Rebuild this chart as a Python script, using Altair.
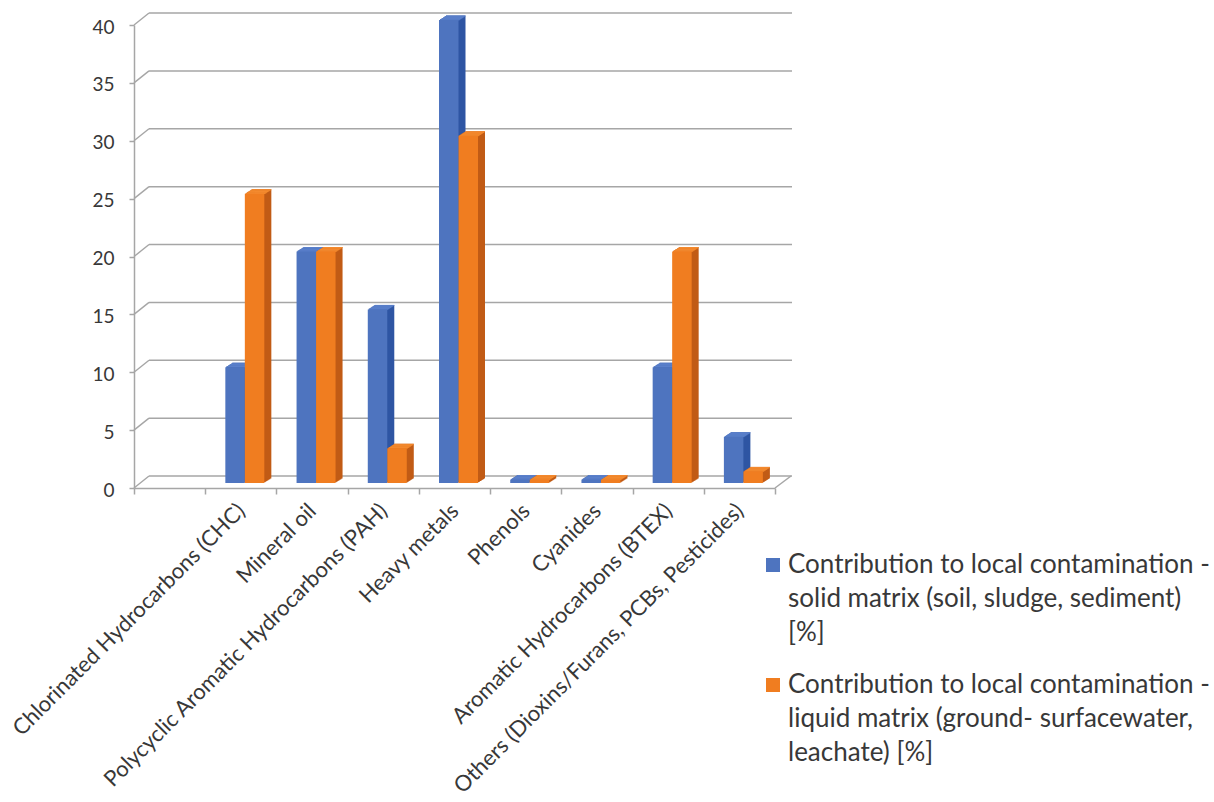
import json
import altair as alt
import pandas as pd

# ---------------- data ----------------
categories = [
    "Chlorinated Hydrocarbons (CHC)",
    "Mineral oil",
    "Polycyclic Aromatic Hydrocarbons (PAH)",
    "Heavy metals",
    "Phenols",
    "Cyanides",
    "Aromatic Hydrocarbons (BTEX)",
    "Others (Dioxins/Furans, PCBs, Pesticides)",
]
solid_values = [10, 20, 15, 40, 0.3, 0.3, 10, 4]
liquid_values = [25, 20, 3, 30, 0.3, 0.3, 20, 1]

series_lines = [
    ["Contribution to local contamination -", "solid matrix (soil, sludge, sediment)", "[%]"],
    ["Contribution to local contamination -", "liquid matrix (ground- surfacewater,", "leachate) [%]"],
]
series_names = [" ".join(lines) for lines in series_lines]
y_ticks = [0, 5, 10, 15, 20, 25, 30, 35, 40]

front_colors = ["#4e74bf", "#f07d20"]
side_colors = ["#2e55a3", "#c15b15"]
top_colors = ["#5b80cb", "#f48a2e"]

# ---------------- tables ----------------
slots = [" "] + categories  # first slot of the category axis is empty
rows = []
for s, vals in zip(series_names, [solid_values, liquid_values]):
    for c, v in zip(categories, vals):
        rows.append({"category": c, "series": s, "value": v})
df = pd.DataFrame(rows)
grid_df = pd.DataFrame({"value": y_ticks})

# ---------------- layout constants ----------------
FONT = "Lato"
TEXT = "#383838"
GRAY = "#a6a6a6"
W, H = 641, 463
BAR_W = 19.5
LIFT = 5          # bars sit slightly behind the front axis
DX, DY = 7, 4.5   # 3-D depth of a bar
N = 7             # slices used to draw the depth faces
GDX, GDY = 15, 12 # depth of the back wall
PAIR_SHIFT = 4
centers = [PAIR_SHIFT - BAR_W / 2, PAIR_SHIFT + BAR_W / 2]

x_enc = alt.X(
    "category:N",
    sort=slots,
    scale=alt.Scale(domain=slots, paddingInner=0, paddingOuter=0),
    axis=alt.Axis(
        title=None, labelAngle=-45, labelAlign="right", labelBaseline="middle",
        labelPadding=13, tickBand="extent", tickSize=6, tickColor=GRAY, tickWidth=1.5,
        domainColor=GRAY, domainWidth=1.5, labelFont=FONT, labelFontSize=22,
        labelColor=TEXT, labelLimit=600, labelOverlap=False, grid=False,
    ),
)
y_enc = alt.Y(
    "value:Q",
    scale=alt.Scale(domain=[0, 40], nice=False),
    axis=alt.Axis(
        title=None, values=y_ticks, grid=False, tickSize=5, tickColor=GRAY, tickWidth=1.5,
        domainColor=GRAY, domainWidth=1.5, labelPadding=15, labelFont=FONT,
        labelFontSize=19, labelColor=TEXT, labelOffset=2,
    ),
)

layers = []

# back-wall gridlines and their connectors to the front axis
layers.append(
    alt.Chart(grid_df).mark_rule(color=GRAY, strokeWidth=1.5, yOffset=-GDY).encode(
        y=y_enc, x=alt.value(GDX), x2=alt.value(W + 17)
    )
)
layers.append(
    alt.Chart(grid_df).mark_rule(color=GRAY, strokeWidth=1.5, y2Offset=-GDY).encode(
        y=y_enc, y2="value:Q", x=alt.value(0), x2=alt.value(GDX)
    )
)
layers.append(
    alt.Chart(grid_df).transform_filter("datum.value == 0").mark_rule(
        color=GRAY, strokeWidth=1.5, y2Offset=-GDY
    ).encode(y=y_enc, y2="value:Q", x=alt.value(W), x2=alt.value(W + 16))
)

# depth faces (side + top) for each series
for i, s in enumerate(series_names):
    base = alt.Chart(df).transform_filter(alt.datum.series == s)
    for k in range(1, N + 1):
        layers.append(
            base.mark_bar(
                width=BAR_W, color=side_colors[i],
                xOffset=centers[i] + k * DX / N,
                yOffset=-LIFT - k * DY / N, y2Offset=-LIFT - k * DY / N,
            ).encode(x=x_enc, y=y_enc, y2=alt.datum(0))
        )
    for k in range(1, N + 1):
        layers.append(
            base.mark_bar(
                width=BAR_W, color=top_colors[i],
                xOffset=centers[i] + k * DX / N,
                yOffset=-LIFT - k * DY / N, y2Offset=-LIFT - (k - 1) * DY / N + 0.4,
            ).encode(x=x_enc, y=y_enc, y2="value:Q")
        )

# front faces (carry the legend)
label_expr = "datum.label == {} ? {} : {}".format(
    json.dumps(series_names[0]), json.dumps(series_lines[0]), json.dumps(series_lines[1])
)
color_enc = alt.Color(
    "series:N",
    scale=alt.Scale(domain=series_names, range=front_colors),
    legend=alt.Legend(
        title=None, orient="none", legendX=626, legendY=527, padding=0,
        symbolType="square", symbolSize=196, symbolStrokeWidth=0,
        labelFont=FONT, labelFontSize=26, labelColor=TEXT, labelLimit=800,
        labelOffset=2, rowPadding=26, labelExpr=label_expr,
        labelBaseline="middle",
    ),
)
for i, s in enumerate(series_names):
    layers.append(
        alt.Chart(df).transform_filter(alt.datum.series == s).mark_bar(
            width=BAR_W, xOffset=centers[i], yOffset=-LIFT, y2Offset=-LIFT
        ).encode(x=x_enc, y=y_enc, y2=alt.datum(0), color=color_enc)
    )

chart = alt.layer(*layers).properties(
    width=W, height=H,
    padding={"left": 8, "top": 12, "right": 0, "bottom": 0},
    background="white",
).configure(
    style={"guide-label": {"lineHeight": 34}}
).configure_view(stroke=None)

chart.save("out.html", embed_options={"renderer": "svg", "actions": False})
